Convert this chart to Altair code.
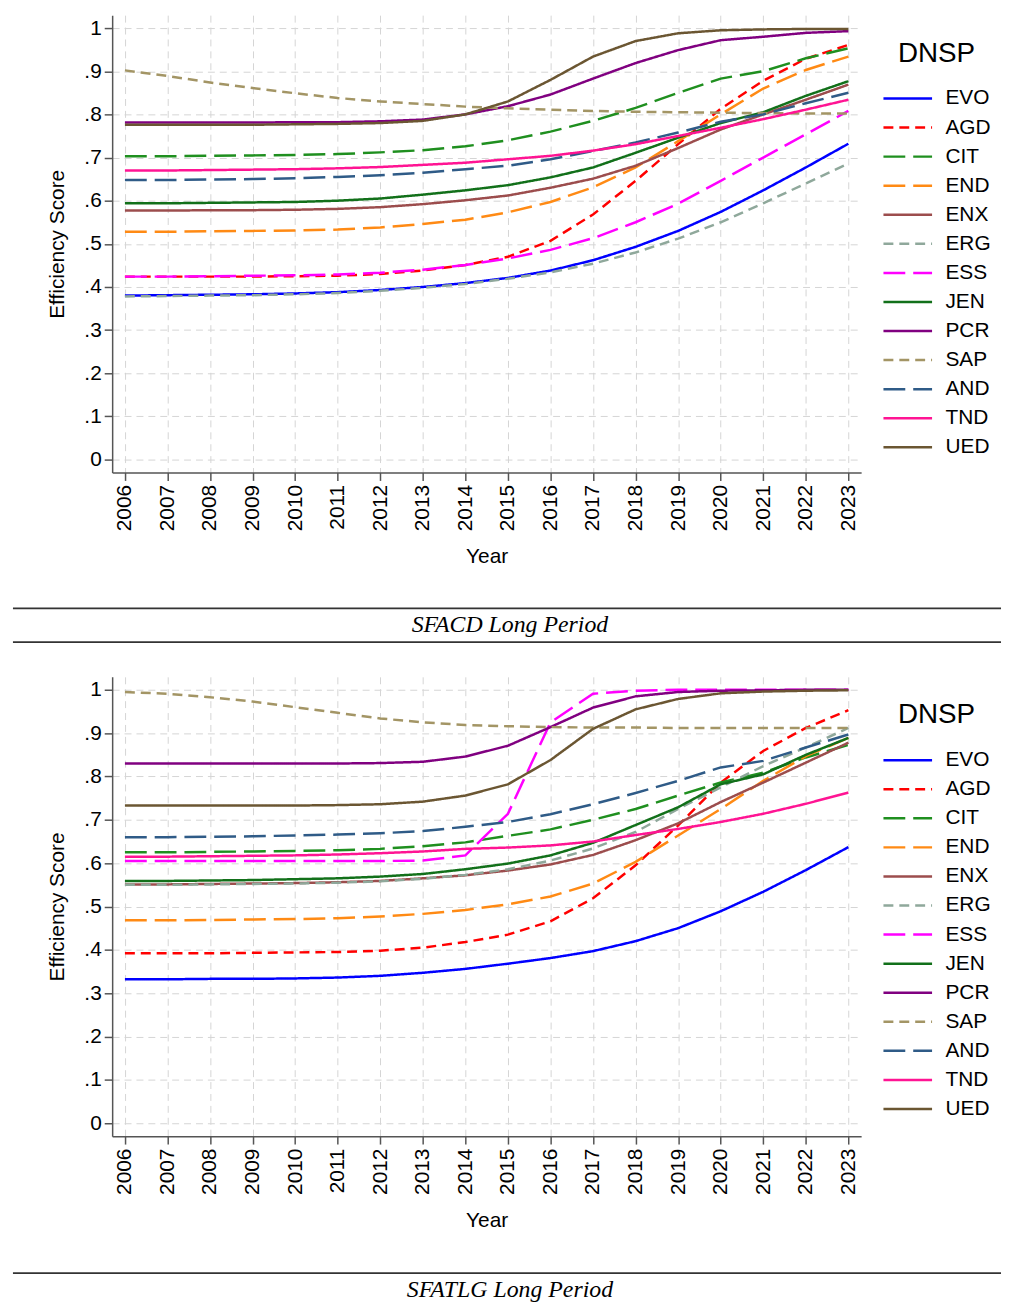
import altair as alt
import pandas as pd

years = list(range(2006, 2024))
dnsp_names = ["EVO", "AGD", "CIT", "END", "ENX", "ERG", "ESS", "JEN", "PCR", "SAP", "AND", "TND", "UED"]
dnsp_colors = ["#0000FF", "#FF0000", "#1F8F1F", "#FF8A14", "#9C4D4D", "#8FA89B", "#FF00FF",
               "#12701A", "#800080", "#A39565", "#2F5B87", "#FF1493", "#6B5632"]
SOLID = [1, 0]
SHORT = [10, 6]
LONG = [22, 8]
dnsp_dashes = [SOLID, SHORT, LONG, LONG, SOLID, SHORT, LONG, SOLID, SOLID, SHORT, LONG, SOLID, SOLID]
y_ticks = [0, 0.1, 0.2, 0.3, 0.4, 0.5, 0.6, 0.7, 0.8, 0.9, 1]

# ---- SFACD Long Period ----
sfacd_EVO = [0.380, 0.381, 0.382, 0.383, 0.385, 0.388, 0.393, 0.400, 0.409, 0.421, 0.438, 0.462, 0.493, 0.530, 0.574, 0.624, 0.677, 0.732]
sfacd_AGD = [0.424, 0.424, 0.424, 0.424, 0.425, 0.426, 0.430, 0.438, 0.451, 0.470, 0.507, 0.568, 0.646, 0.731, 0.813, 0.878, 0.929, 0.961]
sfacd_CIT = [0.703, 0.703, 0.704, 0.705, 0.706, 0.708, 0.712, 0.717, 0.726, 0.740, 0.760, 0.785, 0.815, 0.850, 0.883, 0.900, 0.930, 0.953]
sfacd_END = [0.528, 0.528, 0.529, 0.530, 0.531, 0.533, 0.538, 0.546, 0.556, 0.573, 0.597, 0.631, 0.677, 0.738, 0.800, 0.860, 0.903, 0.934]
sfacd_ENX = [0.577, 0.577, 0.578, 0.578, 0.579, 0.581, 0.585, 0.592, 0.601, 0.612, 0.630, 0.651, 0.681, 0.722, 0.765, 0.800, 0.834, 0.869]
sfacd_ERG = [0.378, 0.379, 0.380, 0.381, 0.383, 0.386, 0.391, 0.398, 0.407, 0.419, 0.434, 0.454, 0.480, 0.512, 0.550, 0.594, 0.640, 0.686]
sfacd_ESS = [0.424, 0.424, 0.425, 0.426, 0.427, 0.429, 0.433, 0.440, 0.451, 0.466, 0.486, 0.513, 0.550, 0.593, 0.646, 0.700, 0.754, 0.808]
sfacd_JEN = [0.594, 0.594, 0.595, 0.596, 0.597, 0.600, 0.605, 0.614, 0.624, 0.636, 0.654, 0.677, 0.711, 0.746, 0.780, 0.805, 0.843, 0.877]
sfacd_PCR = [0.781, 0.781, 0.781, 0.781, 0.782, 0.782, 0.784, 0.788, 0.800, 0.819, 0.846, 0.883, 0.919, 0.949, 0.972, 0.980, 0.989, 0.993]
sfacd_SAP = [0.902, 0.889, 0.874, 0.861, 0.849, 0.838, 0.830, 0.824, 0.818, 0.814, 0.811, 0.808, 0.806, 0.805, 0.804, 0.803, 0.802, 0.802]
sfacd_AND = [0.648, 0.648, 0.649, 0.650, 0.652, 0.655, 0.659, 0.665, 0.673, 0.681, 0.696, 0.715, 0.735, 0.758, 0.783, 0.800, 0.826, 0.850]
sfacd_TND = [0.670, 0.670, 0.671, 0.672, 0.673, 0.675, 0.678, 0.683, 0.688, 0.696, 0.704, 0.716, 0.731, 0.750, 0.769, 0.789, 0.811, 0.834]
sfacd_UED = [0.776, 0.776, 0.776, 0.776, 0.777, 0.778, 0.780, 0.785, 0.800, 0.830, 0.880, 0.934, 0.970, 0.988, 0.995, 0.997, 0.998, 0.998]

# ---- SFATLG Long Period ----
sfatlg_EVO = [0.332, 0.332, 0.333, 0.333, 0.334, 0.336, 0.340, 0.347, 0.356, 0.368, 0.381, 0.397, 0.420, 0.450, 0.489, 0.534, 0.584, 0.637]
sfatlg_AGD = [0.392, 0.392, 0.392, 0.393, 0.394, 0.395, 0.398, 0.405, 0.418, 0.435, 0.466, 0.519, 0.595, 0.687, 0.786, 0.859, 0.912, 0.953]
sfatlg_CIT = [0.625, 0.625, 0.626, 0.627, 0.628, 0.630, 0.633, 0.639, 0.648, 0.663, 0.678, 0.700, 0.725, 0.756, 0.786, 0.809, 0.844, 0.873]
sfatlg_END = [0.468, 0.468, 0.469, 0.470, 0.471, 0.473, 0.477, 0.483, 0.492, 0.505, 0.523, 0.553, 0.603, 0.664, 0.725, 0.790, 0.847, 0.889]
sfatlg_ENX = [0.551, 0.551, 0.552, 0.553, 0.554, 0.556, 0.559, 0.565, 0.572, 0.583, 0.597, 0.619, 0.653, 0.692, 0.741, 0.786, 0.832, 0.878]
sfatlg_ERG = [0.550, 0.550, 0.551, 0.552, 0.553, 0.555, 0.558, 0.564, 0.573, 0.586, 0.606, 0.634, 0.672, 0.725, 0.775, 0.824, 0.867, 0.912]
sfatlg_ESS = [0.605, 0.605, 0.605, 0.605, 0.605, 0.605, 0.605, 0.606, 0.618, 0.714, 0.925, 0.991, 0.998, 1.000, 1.000, 1.000, 1.000, 1.000]
sfatlg_JEN = [0.559, 0.559, 0.560, 0.561, 0.563, 0.565, 0.569, 0.575, 0.586, 0.599, 0.618, 0.647, 0.688, 0.729, 0.782, 0.805, 0.850, 0.889]
sfatlg_PCR = [0.830, 0.830, 0.830, 0.830, 0.830, 0.830, 0.831, 0.834, 0.846, 0.871, 0.914, 0.959, 0.985, 0.995, 0.998, 0.999, 1.000, 1.000]
sfatlg_SAP = [0.995, 0.991, 0.983, 0.973, 0.960, 0.947, 0.934, 0.925, 0.919, 0.916, 0.914, 0.913, 0.913, 0.912, 0.912, 0.912, 0.912, 0.912]
sfatlg_AND = [0.660, 0.660, 0.661, 0.662, 0.664, 0.666, 0.669, 0.674, 0.684, 0.695, 0.713, 0.736, 0.762, 0.790, 0.821, 0.836, 0.867, 0.897]
sfatlg_TND = [0.615, 0.615, 0.616, 0.617, 0.618, 0.620, 0.623, 0.627, 0.633, 0.636, 0.641, 0.650, 0.665, 0.679, 0.695, 0.714, 0.737, 0.763]
sfatlg_UED = [0.733, 0.733, 0.733, 0.733, 0.733, 0.734, 0.736, 0.742, 0.756, 0.782, 0.838, 0.910, 0.955, 0.979, 0.992, 0.996, 0.998, 0.999]

sfacd_series = [sfacd_EVO, sfacd_AGD, sfacd_CIT, sfacd_END, sfacd_ENX, sfacd_ERG, sfacd_ESS,
                sfacd_JEN, sfacd_PCR, sfacd_SAP, sfacd_AND, sfacd_TND, sfacd_UED]
sfatlg_series = [sfatlg_EVO, sfatlg_AGD, sfatlg_CIT, sfatlg_END, sfatlg_ENX, sfatlg_ERG, sfatlg_ESS,
                 sfatlg_JEN, sfatlg_PCR, sfatlg_SAP, sfatlg_AND, sfatlg_TND, sfatlg_UED]


def long_df(series_list):
    rows = []
    for name, vals in zip(dnsp_names, series_list):
        for yr, v in zip(years, vals):
            rows.append({"Year": yr, "score": v, "DNSP": name})
    return pd.DataFrame(rows)


FONT = "Liberation Sans"
GRID = dict(grid=True, gridColor="#d4d4d4", gridDash=[7, 5], gridWidth=1, gridOpacity=1)


def make_legend():
    return alt.Legend(
        title="DNSP", orient="none", legendX=776, legendY=25, direction="vertical",
        titleFont=FONT, titleFontSize=28, titleFontWeight="normal", titleColor="black",
        titleAnchor="middle", titlePadding=19,
        labelFont=FONT, labelFontSize=21, labelColor="black", labelOffset=12,
        symbolType="stroke", symbolSize=2401, symbolStrokeWidth=2.5,
        clipHeight=24, rowPadding=5.3, padding=0,
    )


def panel(series_list, caption, h, r1, r2, ty):
    df = long_df(series_list)
    lines = alt.Chart(df).mark_line(strokeWidth=2.5).encode(
        x=alt.X("Year:Q",
                scale=alt.Scale(domain=[2005.7, 2023.3], nice=False, zero=False),
                axis=alt.Axis(values=years, format="d", labelAngle=270, title="Year",
                              tickSize=8, labelPadding=4, titlePadding=15, **GRID)),
        y=alt.Y("score:Q",
                scale=alt.Scale(domain=[-0.03, 1.03], nice=False, zero=False),
                axis=alt.Axis(values=y_ticks, title="Efficiency Score", tickSize=8,
                              labelPadding=3, titlePadding=17, **GRID,
                              labelExpr="datum.value == 0 ? '0' : datum.value == 1 ? '1' : replace(format(datum.value, '.1f'), '0.', '.')")),
        color=alt.Color("DNSP:N", scale=alt.Scale(domain=dnsp_names, range=dnsp_colors),
                        legend=make_legend(), title="DNSP"),
        strokeDash=alt.StrokeDash("DNSP:N", scale=alt.Scale(domain=dnsp_names, range=dnsp_dashes),
                                  legend=make_legend(), title="DNSP"),
    )
    cap_df = pd.DataFrame({"caption": [caption]})
    rule1 = alt.Chart(cap_df).mark_rule(color="#333333", strokeWidth=1.8).encode(
        x=alt.value(-100), x2=alt.value(896), y=alt.value(r1))
    layers = [lines, rule1]
    if r2 is not None:
        rule2 = alt.Chart(cap_df).mark_rule(color="#333333", strokeWidth=1.8).encode(
            x=alt.value(-100), x2=alt.value(896), y=alt.value(r2))
        layers.append(rule2)
    text = alt.Chart(cap_df).mark_text(font="Liberation Serif", fontStyle="italic", fontSize=24,
                                       color="black", baseline="middle", align="center").encode(
        x=alt.value(401), y=alt.value(ty), text="caption:N")
    layers.append(text)
    return alt.layer(*layers).properties(width=755, height=h)


top = panel(sfacd_series, "SFACD Long Period", 461, 598, 632, 615)
bottom = panel(sfatlg_series, "SFATLG Long Period", 463, 601, None, 618)

chart = alt.vconcat(top, bottom, spacing=34).resolve_scale(
    color="independent", strokeDash="independent"
).resolve_legend(
    color="independent", strokeDash="independent"
).properties(
    padding={"left": 4, "top": 2, "right": 0, "bottom": 0},
    background="white",
).configure_view(stroke=None).configure_axis(
    labelFont=FONT, labelFontSize=21, labelColor="black",
    titleFont=FONT, titleFontSize=21, titleFontWeight="normal", titleColor="black",
    domainColor="#555555", domainWidth=1.5, tickColor="#555555", tickWidth=1.5,
)

chart.save("out.html", embed_options={"renderer": "svg", "actions": False})
